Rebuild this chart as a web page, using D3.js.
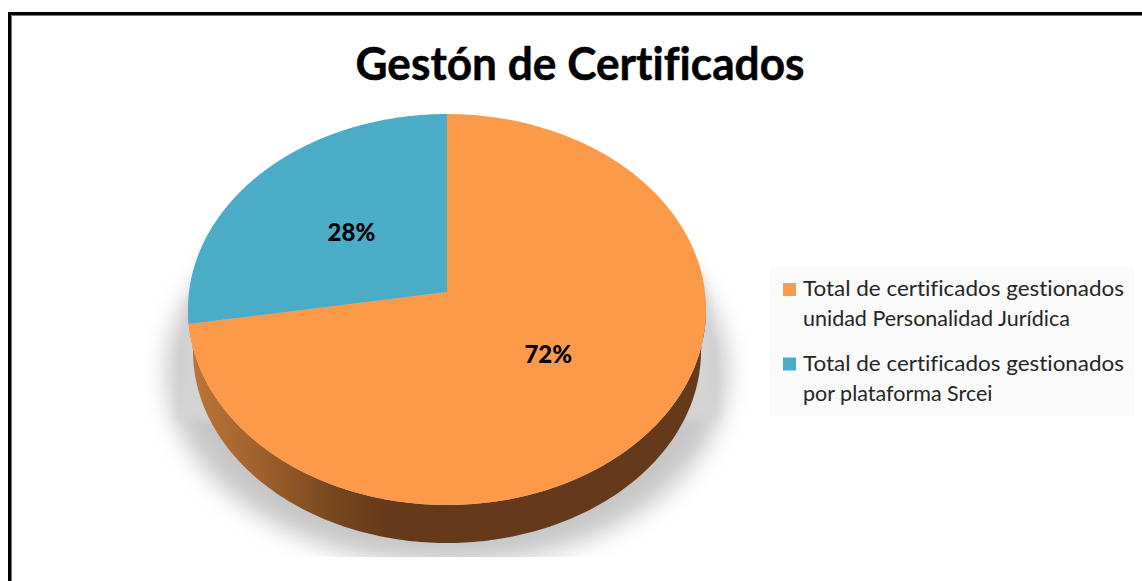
<!DOCTYPE html>
<html><head><meta charset="utf-8">
<script src="https://cdn.jsdelivr.net/npm/d3@7"></script>
<style>html,body{margin:0;padding:0;background:#fff;overflow:hidden}svg{display:block}text{font-family:Lato,"Open Sans",sans-serif;font-variant-ligatures:none;font-feature-settings:"liga" 0}</style>
</head><body><svg id="c" width="1142" height="581"></svg>
<script>
const categories = ["Total de certificados gestionados unidad Personalidad Jurídica","Total de certificados gestionados por plataforma Srcei"];
const legendLines = [["Total de certificados gestionados","unidad Personalidad Jurídica"],["Total de certificados gestionados","por plataforma Srcei"]];
const values = [72.4, 27.6];
const labels = ["72%","28%"];
const colors = ["#fc9a4a","#4bacc8"];
const chartTitle = "Gestón de Certificados";

const svg = d3.select("#c");
const defs = svg.append("defs");
const W=1142,H=581;
svg.append("rect").attr("width",W).attr("height",H).attr("fill","#fff");

// frame
svg.append("path").attr("d","M9.5 581V13.5H1142").attr("fill","none").attr("stroke","#000").attr("stroke-width",3);
svg.append("path").attr("d","M11.5 581V15.5H1142").attr("fill","none").attr("stroke","#777").attr("stroke-width",1);

// perspective projection of a unit disc: apex at the pie centre
const cx=447, cy=292, p=-0.0895, A=193.9, B=258;
const project=(u,v)=>{const w=1+p*v; return [cx+B*u/w, cy+A*v/w];};
const pt=(a,r=1)=>project(r*Math.sin(a),-r*Math.cos(a));
const pie=d3.pie().value(d=>d).sort(null).startAngle(0).endAngle(2*Math.PI);
const arcs=pie(values);
const line=d3.line();
const sweep=(a0,a1,n=240)=>d3.range(n+1).map(i=>pt(a0+(a1-a0)*i/n));

// shadow
defs.append("clipPath").attr("id","sc").append("rect").attr("x",0).attr("y",0).attr("width",W).attr("height",557);
defs.append("filter").attr("id","bl").attr("x","-20%").attr("y","-20%").attr("width","140%").attr("height","140%")
  .append("feGaussianBlur").attr("stdDeviation",12);
const sg=svg.append("g").attr("clip-path","url(#sc)");
const sh=sg.append("g").attr("filter","url(#bl)").attr("fill","#c6c6c6");
sh.append("ellipse").attr("cx",447).attr("cy",372).attr("rx",280).attr("ry",192);
defs.append("filter").attr("id","bl2").attr("x","-20%").attr("y","-20%").attr("width","140%").attr("height","140%")
  .append("feGaussianBlur").attr("stdDeviation",4);
sg.append("path").attr("filter","url(#bl2)").attr("fill","#d4d4d4").attr("d","M190 300L176 420H718L704 280Z");

// side wall
const grad=defs.append("linearGradient").attr("id","wall").attr("gradientUnits","userSpaceOnUse")
  .attr("x1",188).attr("x2",706).attr("y1",0).attr("y2",0);
[[0,"#bd7636"],[0.12,"#a5642e"],[0.28,"#77471f"],[0.38,"#653a1a"],[1,"#653a1a"]].forEach(s=>grad.append("stop").attr("offset",s[0]).attr("stop-color",s[1]));
const depth=d3.range(0,181).map(i=>{const t=Math.PI*i/180;return [447+254*Math.cos(t),351+192*Math.sin(t)];});
const topEdge=d3.range(0,181).map(i=>{const t=Math.PI*i/180;return [447+259*Math.cos(t),309.5+195.5*Math.sin(t)];});
svg.append("path").attr("d",line(depth.concat(topEdge.reverse()))+"Z").attr("fill","url(#wall)");

// top slices
svg.selectAll("path.slice").data(arcs).enter().append("path").attr("class","slice")
  .attr("fill",(d,i)=>colors[i])
  .attr("d",d=>line([[cx,cy],...sweep(d.startAngle,d.endAngle)])+"Z");

// labels
svg.selectAll("text.lab").data(arcs).enter().append("text").attr("class","lab")
  .text((d,i)=>labels[i])
  .attr("x",d=>pt((d.startAngle+d.endAngle)/2,0.5)[0])
  .attr("y",(d,i)=>pt((d.startAngle+d.endAngle)/2,0.5)[1]+(i===0?6:10))
  .attr("text-anchor","middle").attr("font-size",24).attr("font-weight",900).attr("fill","#000");

// title
svg.append("text").text(chartTitle).attr("x",580).attr("y",80).attr("text-anchor","middle")
  .attr("font-size",45).attr("font-weight",700).attr("fill","#000").attr("stroke","#000").attr("stroke-width",0.5)
  .attr("textLength",449).attr("lengthAdjust","spacingAndGlyphs");

// legend
svg.append("rect").attr("x",770).attr("y",267).attr("width",364).attr("height",149).attr("fill","#fafafa");
const lg=svg.selectAll("g.lg").data(categories).enter().append("g").attr("class","lg")
  .attr("transform",(d,i)=>`translate(0,${i*74.5})`);
lg.append("rect").attr("x",783).attr("y",283).attr("width",13).attr("height",13).attr("fill",(d,i)=>colors[i]);
lg.each(function(d,i){
  const g=d3.select(this);
  legendLines[i].forEach((t,j)=>{
    const tx=g.append("text").text(t).attr("x",803).attr("y",296+j*30).attr("font-size",21.5).attr("fill","#262626");
    if(j===0) tx.attr("textLength",321).attr("lengthAdjust","spacingAndGlyphs");
  });
});
</script></body></html>
